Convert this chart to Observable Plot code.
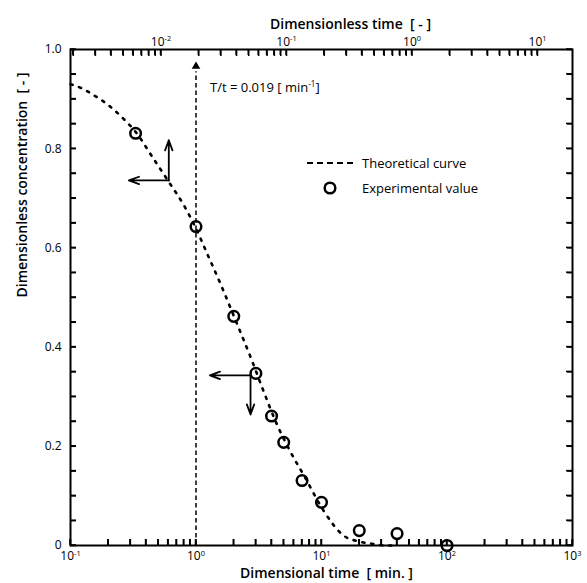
<!DOCTYPE html>
<html>
<head>
<meta charset="utf-8">
<script src="https://cdn.jsdelivr.net/npm/d3@7"></script>
<script src="https://cdn.jsdelivr.net/npm/@observablehq/plot@0.6"></script>
<style>
  body { margin: 0; background: #fff; }
  #chart { position: relative; width: 587px; height: 583px; }
  #chart svg { font-family: "Open Sans", sans-serif; color: #000; }
</style>
</head>
<body>
<div id="chart"></div>
<script>
// Ratio T/t used to convert dimensional time [min] into dimensionless time
const rateT = 0.019;

// Experimental values
const expTime = [0.33, 1.0, 2.0, 3.0, 4.0, 5.0, 7.0, 10, 20, 40, 100];
const expConc = [0.831, 0.643, 0.462, 0.347, 0.261, 0.208, 0.131, 0.087, 0.030, 0.024, 0.0];

// Theoretical curve
const curveTime = [0.1, 0.12, 0.153, 0.2, 0.265, 0.33, 0.45, 0.6, 0.8, 1.0, 1.21, 1.57, 2.0, 2.27, 2.8, 3.36, 4.4, 5.6, 7.4, 10.4, 15, 20, 26, 33, 40];
const curveConc = [0.93, 0.923, 0.908, 0.888, 0.860, 0.834, 0.783, 0.735, 0.686, 0.639, 0.592, 0.527, 0.463, 0.429, 0.372, 0.319, 0.245, 0.191, 0.137, 0.07, 0.02, 0.008, 0.003, 0.0, 0.0];

// Guide arrows: corner point, horizontal tip, vertical tip
const cornerTime = [0.607, 2.72];
const cornerConc = [0.736, 0.343];
const hTipTime = [0.292, 1.29];
const vTipConc = [0.817, 0.264];

// Axis ticks and labels
const bottomMajor = [0.1, 1, 10, 100, 1000];
const bottomLabels = ["10^-1", "10^0", "10^1", "10^2", "10^3"];
const topMajor = [0.01, 0.1, 1, 10];
const topLabels = ["10^-2", "10^-1", "10^0", "10^1"];
const yMajor = [0, 0.2, 0.4, 0.6, 0.8, 1.0];
const yLabels = ["0", "0.2", "0.4", "0.6", "0.8", "1.0"];

const W = 587, H = 583;
const mL = 70, mR = 15, mT = 49, mB = 38;
const xDomain = [0.1, 1000], yDomain = [0, 1];
const tickLen = 6;

const experimental = expTime.map((t, i) => ({t, c: expConc[i]}));
const theoretical = curveTime.map((t, i) => ({t, c: curveConc[i]}));
const guides = cornerTime.flatMap((t, i) => [
  {x1: t, y1: cornerConc[i], x2: hTipTime[i], y2: cornerConc[i]},
  {x1: t, y1: cornerConc[i], x2: t, y2: vTipConc[i]}
]);
const topLabelData = topMajor.map((v, i) => ({t: v / rateT, label: topLabels[i]}));

// Log minor ticks for the bottom (minutes) axis
const bottomTicks = [];
for (const dec of [0.1, 1, 10, 100]) for (let k = 1; k <= 9; k++) bottomTicks.push(dec * k);
bottomTicks.push(1000);
// Log minor ticks for the top (dimensionless) axis, placed in minutes
const topTicks = [];
for (const dec of [0.001, 0.01, 0.1, 1, 10]) for (let k = 1; k <= 9; k++) {
  const t = dec * k / rateT;
  if (t >= xDomain[0] && t <= xDomain[1]) topTicks.push(t);
}
const yTicks = d3.range(0, 21).map(i => i / 20);
const noLabel = () => "";

const plot = Plot.plot({
  width: W, height: H,
  marginLeft: mL, marginRight: mR, marginTop: mT, marginBottom: mB,
  x: {type: "log", domain: xDomain},
  y: {domain: yDomain},
  style: {fontFamily: "'Open Sans', sans-serif", fontSize: "12px", color: "#000", background: "#fff"},
  marks: [
    // inward ticks: axis ticks shifted inside the frame by their own length
    Plot.axisX(bottomTicks, {anchor: "bottom", tickSize: tickLen, dy: -tickLen, strokeWidth: 1.5, tickFormat: noLabel, label: null}),
    Plot.axisX(topTicks, {anchor: "top", tickSize: tickLen, dy: tickLen, strokeWidth: 1.5, tickFormat: noLabel, label: null}),
    Plot.axisY(yTicks, {anchor: "left", tickSize: tickLen, dx: tickLen, strokeWidth: 1.5, tickFormat: noLabel, label: null}),
    Plot.axisY(yTicks, {anchor: "right", tickSize: tickLen, dx: -tickLen, strokeWidth: 1.5, tickFormat: noLabel, label: null}),
    // tick labels
    Plot.axisX(bottomMajor, {anchor: "bottom", tickSize: 0, tickPadding: 6, label: null, tickFormat: d => bottomLabels[bottomMajor.indexOf(d)], fontSize: 12}),
    Plot.axisY(yMajor, {anchor: "left", tickSize: 0, tickPadding: 9, label: null, tickFormat: d => yLabels[yMajor.indexOf(d)], fontSize: 12}),
    Plot.text(topLabelData, {x: "t", text: "label", frameAnchor: "top", lineAnchor: "bottom", dy: -4, fontSize: 12}),
    // theoretical curve
    Plot.line(theoretical, {x: "t", y: "c", stroke: "#000", strokeWidth: 2.6, strokeDasharray: "2.2,6.8", curve: "monotone-x"}),
    // T/t marker line at t = 1 min (dimensionless time = rateT)
    Plot.ruleX([rateT / rateT], {x: d => d, y1: 0, y2: 0.955, stroke: "#000", strokeWidth: 1.5, strokeDasharray: "4.5,3"}),
    Plot.dot([rateT / rateT], {x: d => d, y: 0.966, symbol: "triangle", r: 3.2, fill: "#000", stroke: "none"}),
    Plot.text([`T/t = ${rateT} [ min^-1]`], {x: 1, y: 0.923, dx: 14, textAnchor: "start", fontSize: 13}),
    // guide arrows
    Plot.arrow(guides, {x1: "x1", y1: "y1", x2: "x2", y2: "y2", stroke: "#000", strokeWidth: 1.8, headLength: 9, headAngle: 40}),
    // experimental values
    Plot.dot(experimental, {x: "t", y: "c", r: 5.3, stroke: "#000", strokeWidth: 2.5, fill: "none"}),
    // axis titles
    Plot.text(["Dimensionless time\u00a0 [ - ]"], {frameAnchor: "top", dx: 29, dy: -30, fontSize: 14, fontWeight: 600}),
    Plot.text(["Dimensional time\u00a0 [ min. ]"], {frameAnchor: "bottom", dx: 5, dy: 32, fontSize: 14, fontWeight: 600}),
    Plot.text(["Dimensionless concentration\u00a0 [ - ]"], {frameAnchor: "left", dx: -48, rotate: -90, fontSize: 14, fontWeight: 600}),
    Plot.frame({stroke: "#000", strokeWidth: 2})
  ]
});

// Inward ticks again as plain lines, positioned with the plot's own scales
const xs = plot.scale("x"), ys = plot.scale("y");
const x0 = xs.apply(xDomain[0]), x1 = xs.apply(xDomain[1]);
const y0 = ys.apply(yDomain[0]), y1 = ys.apply(yDomain[1]);
const tg = d3.select(plot).append("g").attr("stroke", "#000").attr("stroke-width", 1.5);
for (const t of bottomTicks) {
  const x = xs.apply(t);
  tg.append("line").attr("x1", x).attr("x2", x).attr("y1", y0).attr("y2", y0 - tickLen);
}
for (const t of topTicks) {
  const x = xs.apply(t);
  tg.append("line").attr("x1", x).attr("x2", x).attr("y1", y1).attr("y2", y1 + tickLen);
}
for (const v of yTicks) {
  const y = ys.apply(v);
  tg.append("line").attr("x1", x0).attr("x2", x0 + tickLen).attr("y1", y).attr("y2", y);
  tg.append("line").attr("x1", x1).attr("x2", x1 - tickLen).attr("y1", y).attr("y2", y);
}

// Render "a^b" as a superscript
d3.select(plot).selectAll("text").each(function () {
  const el = this;
  if (el.childNodes.length !== 1 || el.firstChild.nodeType !== 3) return;
  const m = el.textContent.match(/^(.*?)\^(-?\d+)(.*)$/);
  if (!m) return;
  el.textContent = m[1];
  const sup = document.createElementNS("http://www.w3.org/2000/svg", "tspan");
  sup.setAttribute("dy", "-4.5");
  sup.setAttribute("font-size", "0.62em");
  sup.textContent = m[2];
  el.appendChild(sup);
  if (m[3]) {
    const rest = document.createElementNS("http://www.w3.org/2000/svg", "tspan");
    rest.setAttribute("dy", "4.5");
    rest.textContent = m[3];
    el.appendChild(rest);
  }
});

// Legend
const lg = d3.select(plot).append("g").attr("font-size", 13).attr("fill", "#000").attr("text-anchor", "start");
lg.append("line").attr("x1", 307).attr("x2", 353).attr("y1", 163).attr("y2", 163)
  .attr("stroke", "#000").attr("stroke-width", 2).attr("stroke-dasharray", "6,4");
lg.append("text").attr("x", 362).attr("y", 163).attr("dy", "0.35em").text("Theoretical curve");
lg.append("circle").attr("cx", 330).attr("cy", 188).attr("r", 5.3)
  .attr("fill", "none").attr("stroke", "#000").attr("stroke-width", 2.5);
lg.append("text").attr("x", 362).attr("y", 188).attr("dy", "0.35em").text("Experimental value");

document.getElementById("chart").appendChild(plot);
</script>
</body>
</html>
